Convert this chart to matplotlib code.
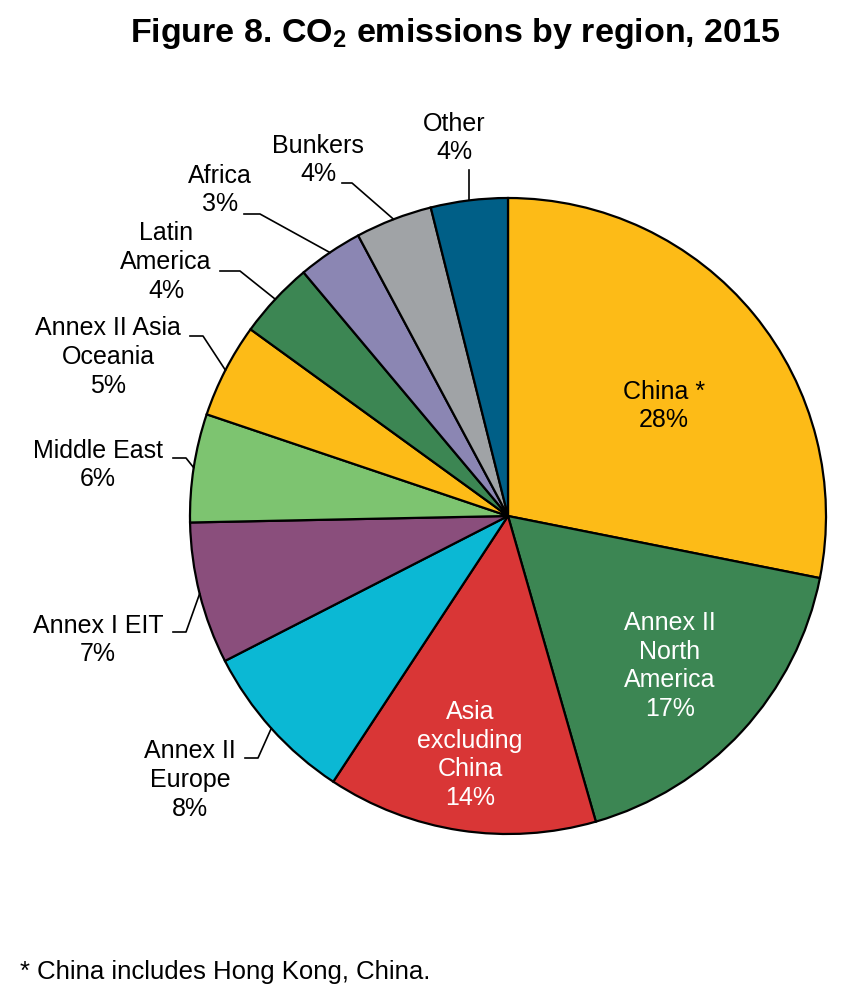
import numpy as np
import matplotlib
matplotlib.use('Agg')
from matplotlib import pyplot as plt

# data (share of global CO2 emissions, %)
regions = ['China *', 'Annex II\nNorth\nAmerica', 'Asia\nexcluding\nChina', 'Annex II\nEurope',
           'Annex I EIT', 'Middle East', 'Annex II Asia\nOceania', 'Latin\nAmerica',
           'Africa', 'Bunkers', 'Other']
shares = [28.1, 17.4, 13.7, 8.2, 7.2, 5.5, 4.8, 3.9, 3.3, 3.9, 3.9]
pct_labels = ['28%', '17%', '14%', '8%', '7%', '6%', '5%', '4%', '3%', '4%', '4%']
colors = ['#FDBB17', '#3C8653', '#D93636', '#0BB8D4', '#8A4E7C', '#7DC470',
          '#FDBB17', '#3C8653', '#8B86B3', '#A0A3A6', '#005F87']

plt.rcParams['font.family'] = ['Liberation Sans', 'DejaVu Sans']
plt.rcParams['mathtext.default'] = 'regular'

W, H = 868, 996
fig = plt.figure(figsize=(W/100, H/100), dpi=100)
ax = fig.add_axes([0, 0, 1, 1])

cx, cy, R = 508, H - 516, 318
wedges, _ = ax.pie(shares, colors=colors, startangle=90, counterclock=False,
                   center=(cx, cy), radius=R, frame=True,
                   wedgeprops=dict(edgecolor='black', linewidth=1.6))
ax.set_xlim(0, W)
ax.set_ylim(0, H)
ax.set_aspect('equal')
ax.axis('off')

fs = 18
ls = 1.24
# inside labels: (index, x, y px, color)
inside = [(0, 664, 406, 'black'), (1, 670, 666, 'white'), (2, 470, 755, 'white')]
for i, x, y, c in inside:
    ax.text(x, H - y, regions[i] + '\n' + pct_labels[i], ha='center', va='center',
            fontsize=fs, color=c, linespacing=ls)

# outside labels: (index, text x, text y, elbow x0, elbow x1, elbow y)  in px
outside = [
    (10, 454, 138, None, None, None),
    (9, 318, 160, 342, 352, 183),
    (8, 220, 190, 244, 260, 214),
    (7, 166, 262, 220, 240, 271),
    (6, 108, 357, 190, 203, 336),
    (5, 98, 465, 173, 186, 458),
    (4, 98, 640, 173, 186, 632),
    (3, 190, 780, 245, 258, 758),
]
for i, tx, ty, x0, x1, ye in outside:
    w = wedges[i]
    mid = np.deg2rad((w.theta1 + w.theta2) / 2)
    ex, ey = cx + R*np.cos(mid), cy + R*np.sin(mid)
    ax.text(tx, H - ty, regions[i] + '\n' + pct_labels[i], ha='center', va='center',
            fontsize=fs, color='black', linespacing=ls)
    if x0 is None:
        ax.plot([ex, ex], [H - 170, ey], color='black', lw=1.2)
    else:
        ax.plot([x0, x1, ex], [H - ye, H - ye, ey], color='black', lw=1.2)

ax.text(455, H - 33, 'Figure 8. CO$_2$ emissions by region, 2015', ha='center', va='center',
        fontsize=24.5, fontweight='bold')
ax.text(20, H - 972, '* China includes Hong Kong, China.', ha='left', va='center',
        fontsize=18.5)

fig.savefig('out.png', dpi=100)
